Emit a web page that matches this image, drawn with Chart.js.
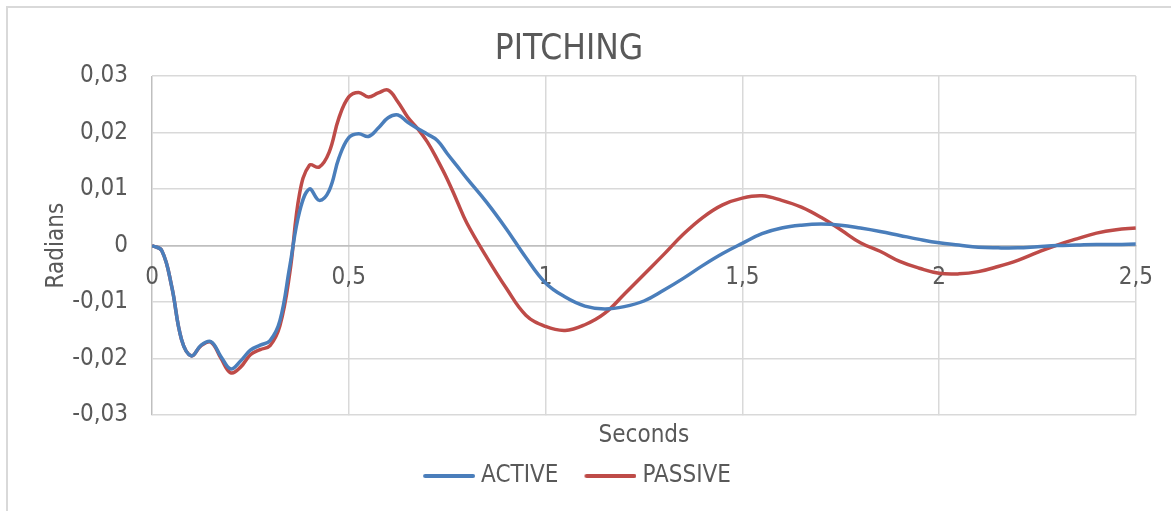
<!DOCTYPE html>
<html>
<head>
<meta charset="utf-8">
<title>PITCHING</title>
<script src="https://cdn.jsdelivr.net/npm/chart.js@4.4.1/dist/chart.umd.min.js"></script>
<style>
    html, body { margin: 0; padding: 0; background: #fff; overflow: hidden; }
    #wrap { position: relative; width: 1171px; height: 511px; }
    #frame { position: absolute; left: 6px; top: 6px; width: 1200px; height: 600px;
             border-left: 2px solid #d9d9d9; border-top: 2px solid #d9d9d9; }
    canvas { position: absolute; left: 0; top: 0; }
</style>
</head>
<body>
<div id="wrap">
    <div id="frame"></div>
    <canvas id="pitching_chart" width="1171" height="511"></canvas>
</div>
<script>
// time (s)
var seconds = [
    0, 0.025, 0.05, 0.075, 0.1, 0.125, 0.15, 0.175, 0.2, 0.225, 0.25, 0.275, 0.3,
    0.325, 0.35, 0.375, 0.4, 0.425, 0.45, 0.475, 0.5, 0.525, 0.55, 0.575, 0.6,
    0.625, 0.65, 0.675, 0.7, 0.725, 0.75, 0.775, 0.8,
    0.85, 0.9, 0.95, 1.0, 1.05, 1.1, 1.15, 1.2, 1.25, 1.3, 1.35, 1.4, 1.45, 1.5,
    1.55, 1.6, 1.65, 1.7, 1.75, 1.8, 1.85, 1.9, 1.95, 2.0, 2.05, 2.1, 2.15, 2.2,
    2.25, 2.3, 2.35, 2.4, 2.45, 2.5
];

// pitching angle (rad)
var active = [
    0, -0.0009, -0.0072, -0.0166, -0.0195, -0.0176, -0.0170, -0.0196, -0.0218, -0.0204, -0.0185, -0.0176, -0.0168,
    -0.0133, -0.0037, 0.0060, 0.0100, 0.0080, 0.0097, 0.0155, 0.0191, 0.0198, 0.0193, 0.0208, 0.0226,
    0.0231, 0.0218, 0.0207, 0.0197, 0.0186, 0.0163, 0.0141, 0.0119,
    0.0077, 0.0030, -0.0021, -0.0066, -0.0091, -0.0107, -0.0112, -0.0108, -0.0098, -0.0079, -0.0058, -0.0035, -0.0014, 0.0004,
    0.0021, 0.0031, 0.0036, 0.0038, 0.0036, 0.0031, 0.0025, 0.0018, 0.0011, 0.0005, 0.0001, -0.0003, -0.0004, -0.0004,
    -0.0002, 0.0000, 0.0001, 0.0002, 0.0002, 0.0003
];

var passive = [
    0, -0.0009, -0.0072, -0.0166, -0.0195, -0.0177, -0.0171, -0.0199, -0.0225, -0.0215, -0.0193, -0.0184, -0.0177,
    -0.0142, -0.0049, 0.0092, 0.0142, 0.0139, 0.0165, 0.0226, 0.0263, 0.0271, 0.0263, 0.0270, 0.0275,
    0.0254, 0.0227, 0.0207, 0.0183, 0.0152, 0.0118, 0.0079, 0.0040,
    -0.0020, -0.0075, -0.0123, -0.0143, -0.0150, -0.0140, -0.0120, -0.0086, -0.0051, -0.0016, 0.0020, 0.0050, 0.0072, 0.0084,
    0.0088, 0.0080, 0.0068, 0.0050, 0.0028, 0.0005, -0.0010, -0.0028, -0.0040, -0.0049, -0.0050, -0.0046, -0.0037, -0.0026,
    -0.0012, 0.0001, 0.0012, 0.0022, 0.0028, 0.0031
];

var seriesNames = ['ACTIVE', 'PASSIVE'];
var seriesColors = ['#4A7EBB', '#BE4B48'];

var FONT = "'Liberation Sans Narrow', 'DejaVu Sans Condensed', 'Open Sans', sans-serif";
var TEXT = '#595959';

function toPoints(values) {
    return values.map(function (v, i) { return {x: seconds[i], y: v}; });
}

function commaNum(v, digits) {
    if (Math.abs(v) < 1e-9) return '0';
    var s = digits ? v.toFixed(digits) : String(Math.round(v * 10) / 10);
    return s.replace('.', ',');
}

// legend swatch: the line sits in the right part of the image so it ends
// close to its text and leaves a wider gap after the previous item
function lineSwatch(color) {
    var c = document.createElement('canvas');
    c.width = 74;
    c.height = 6;
    var g = c.getContext('2d');
    g.strokeStyle = color;
    g.lineWidth = 4;
    g.lineCap = 'round';
    g.beginPath();
    g.moveTo(24, 3);
    g.lineTo(72, 3);
    g.stroke();
    return c;
}

var ctx = document.getElementById('pitching_chart').getContext('2d');
new Chart(ctx, {
    type: 'line',
    data: {
        datasets: [active, passive].map(function (vals, i) {
            return {
                label: seriesNames[i],
                data: toPoints(vals),
                borderColor: seriesColors[i],
                backgroundColor: seriesColors[i],
                borderWidth: 3.5,
                pointRadius: 0,
                pointStyle: lineSwatch(seriesColors[i]),
                tension: 0.4,
                fill: false
            };
        })
    },
    options: {
        responsive: false,
        animation: false,
        layout: { padding: { left: 0, right: 33, top: 0, bottom: 13 } },
        plugins: {
            title: {
                display: true,
                text: 'PITCHING',
                color: TEXT,
                font: { family: FONT, size: 35, weight: 'normal' },
                padding: { top: 29, bottom: 5 }
            },
            legend: {
                position: 'bottom',
                labels: {
                    usePointStyle: true,
                    pointStyleWidth: 62,
                    color: TEXT,
                    font: { family: FONT, size: 24 },
                    padding: 10
                }
            },
            tooltip: { enabled: false }
        },
        scales: {
            x: {
                type: 'linear',
                min: 0,
                max: 2.5,
                position: { y: 0 },
                ticks: {
                    stepSize: 0.5,
                    color: TEXT,
                    padding: 18,
                    maxRotation: 0,
                    font: { family: FONT, size: 24 },
                    callback: function (v) { return commaNum(v); }
                },
                grid: {
                    drawTicks: false,
                    lineWidth: 1.5,
                    color: function (c) { return c.tick && c.tick.value === 0 ? '#bfbfbf' : '#d9d9d9'; }
                },
                border: { display: true, color: '#bfbfbf', width: 1.5 }
            },
            xTitle: {
                type: 'linear',
                axis: 'x',
                min: 0,
                max: 2.5,
                position: 'bottom',
                ticks: { display: false },
                grid: { display: false, drawTicks: false },
                border: { display: false },
                title: {
                    display: true,
                    text: 'Seconds',
                    color: TEXT,
                    font: { family: FONT, size: 24 },
                    padding: { top: 6, bottom: 4 }
                }
            },
            y: {
                min: -0.03,
                max: 0.03,
                ticks: {
                    stepSize: 0.01,
                    color: TEXT,
                    padding: 24,
                    font: { family: FONT, size: 24 },
                    callback: function (v) { return commaNum(v, 2); }
                },
                grid: {
                    drawTicks: false,
                    lineWidth: 1.5,
                    color: function (c) { return c.tick && Math.abs(c.tick.value) < 1e-9 ? '#bfbfbf' : '#d9d9d9'; }
                },
                border: { display: false },
                title: {
                    display: true,
                    text: 'Radians',
                    color: TEXT,
                    font: { family: FONT, size: 24 },
                    padding: { top: 42, bottom: 0 }
                },
                afterFit: function (scale) { scale.width = 152; }
            }
        }
    }
});
</script>
</body>
</html>
